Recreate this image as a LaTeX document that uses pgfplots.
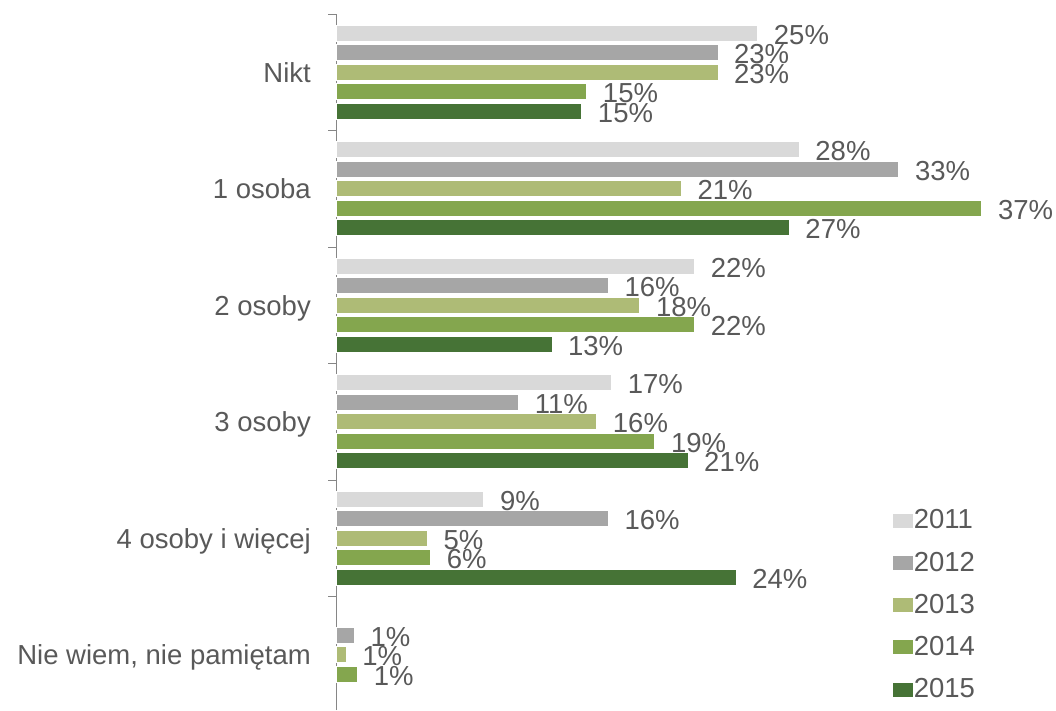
\documentclass[border=0pt]{standalone}
\usepackage{fontspec}
\setmainfont{Liberation Sans}
\usepackage{pgfplots}
\usepackage{pgfplotstable}
\pgfplotsset{compat=1.18}

\definecolor{c11}{HTML}{D9D9D9}
\definecolor{c12}{HTML}{A6A6A6}
\definecolor{c13}{HTML}{AEBB76}
\definecolor{c14}{HTML}{84A64E}
\definecolor{c15}{HTML}{467336}
\definecolor{txt}{HTML}{595959}
\definecolor{axgray}{HTML}{868686}

\newcommand\fs{\fontsize{27.5}{33}\selectfont}

% pos: 5 = Nikt ... 0 = Nie wiem; v = bar length, l = printed label
\pgfplotstableread{
pos v11 l11 v12 l12 v13 l13 v14 l14 v15 l15
5 25.4 25 23.0 23 23.0 23 15.1 15 14.8 15
4 27.9 28 33.9 33 20.8 21 38.9 37 27.3 27
3 21.6 22 16.4 16 18.3 18 21.6 22 13.0 13
2 16.6 17 11.0 11 15.7 16 19.2 19 21.2 21
1 8.9 9 16.4 16 5.5 5 5.7 6 24.1 24
0 nan nan 1.1 1 0.6 1 1.3 1 nan nan
}\data

\pgfplotsset{
  sqlegend/.style={legend image code/.code={
    \fill[##1] (0pt,-9pt) rectangle (15pt,6pt);
    \path (0pt,-9pt) rectangle (21pt,6pt);}},
  yr/.style={xbar, bar width=16pt, draw=white, line width=0.6pt, sqlegend}
}

\begin{document}
\begin{tikzpicture}[x=1pt,y=1pt]
\useasboundingbox (0,0) rectangle (1056,-710);
\begin{axis}[
  at={(336pt,-14pt)}, anchor=north west,
  scale only axis, width=697.2pt, height=696pt,
  xmin=0, xmax=42, ymin=-0.474, ymax=5.5,
  xbar, bar width=16pt, clip=false,
  axis x line=none, axis y line*=left,
  axis line style={draw=axgray, line width=0.8pt, -},
  xtick=\empty,
  ytick={0,1,2,3,4,5},
  yticklabels={{Nie wiem, nie pamiętam},{4 osoby i więcej},{3 osoby},{2 osoby},{1 osoba},{Nikt}},
  major tick length=0pt,
  minor ytick={-0.5,0.5,1.5,2.5,3.5,4.5,5.5},
  minor tick length=8pt, tick align=outside,
  ytick style={draw=axgray, line width=0.8pt},
  yticklabel style={font=\fs, text=txt, anchor=east, inner sep=0pt,
    text height=19.5pt, text depth=0pt, xshift=-25pt},
  point meta=explicit symbolic,
  nodes near coords={\pgfplotspointmeta\%},
  every node near coord/.append style={font=\fs, text=txt, anchor=west,
    inner sep=0pt, text height=19.5pt, text depth=0pt, xshift=16pt, yshift=-1pt},
  legend cell align=left,
  legend style={at={(0.7975,0.153)}, anchor=west, draw=none, fill=none,
    inner sep=0pt, row sep=22.75pt,
    nodes={inner sep=0pt, text height=19.5pt, text depth=0pt, font=\fs, text=txt}},
]
\addplot[yr, fill=c11, bar shift=39pt]    table[x=v11, y=pos, meta=l11]{\data};
\addplot[yr, fill=c12, bar shift=19.5pt]  table[x=v12, y=pos, meta=l12]{\data};
\addplot[yr, fill=c13, bar shift=0pt]     table[x=v13, y=pos, meta=l13]{\data};
\addplot[yr, fill=c14, bar shift=-19.5pt] table[x=v14, y=pos, meta=l14]{\data};
\addplot[yr, fill=c15, bar shift=-39pt]   table[x=v15, y=pos, meta=l15]{\data};
\legend{2011,2012,2013,2014,2015}
\end{axis}
\end{tikzpicture}
\end{document}
